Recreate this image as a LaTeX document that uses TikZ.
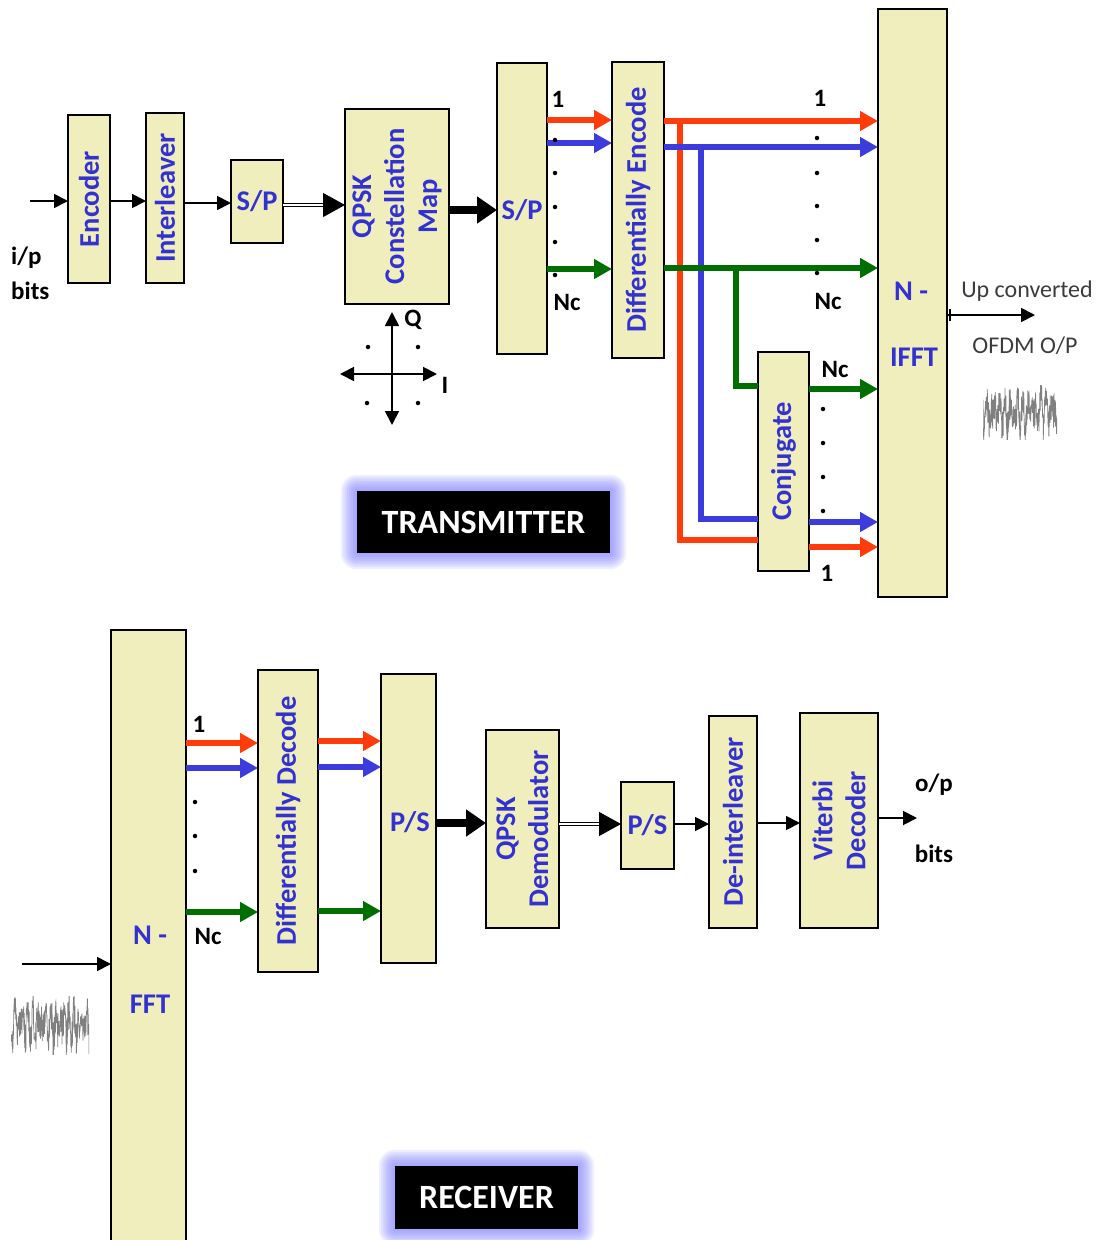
\documentclass[tikz,border=0pt]{standalone}
\usepackage{fontspec}
\setmainfont{Carlito}
\usetikzlibrary{arrows.meta,backgrounds,calc}
\definecolor{boxfill}{RGB}{240,238,188}
\definecolor{txtblue}{RGB}{50,50,210}
\definecolor{arrred}{RGB}{255,60,10}
\definecolor{arrblue}{RGB}{60,60,220}
\definecolor{arrgreen}{RGB}{0,110,0}
\definecolor{glowc}{RGB}{120,120,255}
\definecolor{graytxt}{RGB}{60,60,60}
\begin{document}
\begin{tikzpicture}[x=1pt,y=-1pt,
  blk/.style={draw=black, line width=2.2pt, fill=boxfill, inner sep=0pt, outer sep=0pt},
  lbl/.style={text=txtblue, font=\fontsize{28.5}{33}\selectfont\bfseries, inner sep=0pt, align=center},
  rlbl/.style={lbl, rotate=90},
  num/.style={font=\fontsize{25}{28}\selectfont\bfseries, inner sep=0pt},
  upt/.style={text=graytxt, font=\fontsize{24}{27}\selectfont, inner sep=0pt},
  tag/.style={fill=black, text=white, font=\fontsize{34}{38}\selectfont\bfseries, inner sep=0pt},
  thinarr/.style={line width=1.8pt, -{Triangle[length=14pt,width=14pt]}},
  bothhead/.style={line width=1.8pt, {Triangle[length=14pt,width=14pt]}-{Triangle[length=14pt,width=14pt]}},
  thickarr/.style={line width=8pt, -{Triangle[length=20pt,width=26pt]}},
  dblarr/.style={double, double distance=2.5pt, line width=1.2pt, -{Triangle[length=22pt,width=24pt]}},
  colarr/.style={line width=5.8pt, -{Triangle[length=18pt,width=19pt]}},
  colln/.style={line width=5.8pt},
  dotn/.style={circle, fill=black, inner sep=0pt, minimum size=4.5pt},
  noise/.style={line width=0.7pt, draw=black!50}
]
\useasboundingbox (0,0) rectangle (1102,1240);

% ================= TRANSMITTER =================
\node[blk, minimum width=42pt, minimum height=168pt] (enc) at (89,199) {};
\node[rlbl] (enct) at (enc) {Encoder};
\node[blk, minimum width=38pt, minimum height=170pt] (intl) at (165,198) {};
\node[rlbl] (intlt) at (intl) {Interleaver};
\node[blk, minimum width=52pt, minimum height=83pt] (sp1) at (257,201.5) {};
\node[lbl] (sp1t) at (sp1) {S/P};
\node[blk, minimum width=104pt, minimum height=195pt] (qpsk) at (397,206.5) {};
\node[rlbl] (qpskt) at (qpsk) {QPSK\\Constellation\\Map};
\node[blk, minimum width=50pt, minimum height=291pt] (sp2) at (522,208.5) {};
\node[lbl] (sp2t) at (522,210) {S/P};
\node[blk, minimum width=52pt, minimum height=296pt] (denc) at (638,210) {};
\node[rlbl] (denct) at (denc) {Differentially Encode};
\node[blk, minimum width=69pt, minimum height=588pt] (ifft) at (912.5,303) {};
\node[lbl] (ifftn) at (911,291) {N -};
\node[lbl] (ifftt) at (914,357) {IFFT};
\node[blk, minimum width=51pt, minimum height=219pt] (conj) at (783.5,461.5) {};
\node[rlbl] (conjt) at (conj) {Conjugate};

% input
\coordinate (ipin) at (30,201);
\draw[thinarr] (ipin) -- (ipin -| enc.west);
\node[num, anchor=west] (ipt) at (11,258) {i/p};
\node[num, anchor=west] (ipb) at (11,291) {bits};
\draw[thinarr] (enc.east |- 0,201) -- (intl.west |- 0,201);
\draw[thinarr] (intl.east |- 0,203) -- (sp1.west |- 0,203);
\draw[dblarr] (sp1.east |- 0,205) -- (qpsk.west |- 0,205);
\draw[thickarr] (qpsk.east |- 0,210) -- (sp2.west |- 0,210);

% constellation
\coordinate (qtop) at (392,312);
\coordinate (qbot) at (392,425);
\coordinate (ileft) at (340,374);
\coordinate (iright) at (437,374);
\draw[bothhead] (qbot) -- (qtop);
\draw[bothhead] (ileft) -- (iright);
\node[num] (qlab) at (413,320) {Q};
\node[num] (ilab) at (445,385) {I};
\node[dotn] (c1) at (368,347) {};
\node[dotn] (c2) at (418,347) {};
\node[dotn] (c3) at (367,403) {};
\node[dotn] (c4) at (418,403) {};

% S/P -> Diff encode
\draw[colarr, arrred] (sp2.east |- 0,120) -- (denc.west |- 0,120);
\draw[colarr, arrblue] (sp2.east |- 0,143) -- (denc.west |- 0,143);
\draw[colarr, arrgreen] (sp2.east |- 0,269) -- (denc.west |- 0,269);
\node[num] (sp2one) at (558,99) {1};
\node[num] (sp2nc) at (567,302) {Nc};
\foreach \yy [count=\k] in {140,173,207,242,275} \node[dotn] (spd\k) at (555,\yy) {};

% branches to conjugate
\coordinate (rj) at (680,121);
\coordinate (bj) at (701,147);
\coordinate (gj) at (736,268);
\draw[colln, arrred] (rj) |- (conj.west |- 0,540);
\draw[colln, arrblue] (bj) |- (conj.west |- 0,519);
\draw[colln, arrgreen] (gj) |- (conj.west |- 0,386);

% Diff encode -> IFFT
\draw[colarr, arrred] (denc.east |- 0,121) -- (ifft.west |- 0,121);
\draw[colarr, arrblue] (denc.east |- 0,147) -- (ifft.west |- 0,147);
\draw[colarr, arrgreen] (denc.east |- 0,268) -- (ifft.west |- 0,268);
\node[num] (deone) at (820,98) {1};
\node[num] (denc2) at (828,301) {Nc};
\foreach \yy [count=\k] in {138,173,206,240,273} \node[dotn] (ded\k) at (817,\yy) {};

% Conjugate -> IFFT
\draw[colarr, arrgreen] (conj.east |- 0,389) -- (ifft.west |- 0,389);
\draw[colarr, arrblue] (conj.east |- 0,522) -- (ifft.west |- 0,522);
\draw[colarr, arrred] (conj.east |- 0,547) -- (ifft.west |- 0,547);
\node[num] (cjnc) at (835,369) {Nc};
\node[num] (cjone) at (827,573) {1};
\foreach \yy [count=\k] in {409,443,477,511} \node[dotn] (cjd\k) at (823,\yy) {};

% IFFT output
\coordinate (ofdm) at (1035,315);
\draw[thinarr] (ifft.east |- ofdm) -- (ofdm);
\draw[line width=1.5pt] (950,309) -- (950,321);
\node[upt] (upc) at (1027,291) {Up converted};
\node[upt] (ofdmt) at (1025,346) {OFDM O/P};

% noise (transmitter)
\pgfmathsetseed{7}
\begin{scope}[shift={(983,412)}]
\clip (0,-27) rectangle (74,27);
\draw[noise] plot[domain=0:74, samples=320, variable=\t] (\t, {34*(0.5*sin(\t*70)*cos(\t*9)+0.5*(2*rnd-1))});
\end{scope}

% TRANSMITTER tag
\node[tag, minimum width=253pt, minimum height=62pt] (tx) at (483.5,522) {TRANSMITTER};
\begin{scope}[on background layer]
\foreach \gl in {2,4,...,16} {
  \fill[glowc, opacity=0.12, rounded corners=\gl pt] ($(tx.north west)+(-\gl,-\gl)$) rectangle ($(tx.south east)+(\gl,\gl)$);
}
\end{scope}

% ================= RECEIVER =================
\node[blk, minimum width=75pt, minimum height=620pt] (fft) at (148.5,940) {};
\node[lbl] (fftn) at (150,935) {N -};
\node[lbl] (fftt) at (150,1004) {FFT};
\node[blk, minimum width=60pt, minimum height=302pt] (ddec) at (288,821) {};
\node[rlbl] (ddect) at (ddec) {Differentially Decode};
\node[blk, minimum width=55pt, minimum height=289pt] (ps1) at (408.5,818.5) {};
\node[lbl] (ps1t) at (410,822) {P/S};
\node[blk, minimum width=73pt, minimum height=198pt] (qdem) at (522.5,829) {};
\node[rlbl] (qdemt) at (qdem) {QPSK\\Demodulator};
\node[blk, minimum width=53pt, minimum height=87pt] (ps2) at (647.5,825.5) {};
\node[lbl] (ps2t) at (ps2) {P/S};
\node[blk, minimum width=48pt, minimum height=212pt] (dint) at (733,822) {};
\node[rlbl] (dintt) at (dint) {De-interleaver};
\node[blk, minimum width=78pt, minimum height=215pt] (vit) at (839,820.5) {};
\node[rlbl] (vitt) at (vit) {Viterbi\\Decoder};

\coordinate (rin) at (22,964);
\draw[thinarr] (rin) -- (rin -| fft.west);

\draw[colarr, arrred] (fft.east |- 0,743) -- (ddec.west |- 0,743);
\draw[colarr, arrblue] (fft.east |- 0,768) -- (ddec.west |- 0,768);
\draw[colarr, arrgreen] (fft.east |- 0,912) -- (ddec.west |- 0,912);
\node[num] (rone) at (199,724) {1};
\node[num] (rnc) at (208,936) {Nc};
\foreach \yy [count=\k] in {802,836,871} \node[dotn] (rd\k) at (195,\yy) {};

\draw[colarr, arrred] (ddec.east |- 0,741) -- (ps1.west |- 0,741);
\draw[colarr, arrblue] (ddec.east |- 0,767) -- (ps1.west |- 0,767);
\draw[colarr, arrgreen] (ddec.east |- 0,911) -- (ps1.west |- 0,911);

\draw[thickarr] (ps1.east |- 0,823) -- (qdem.west |- 0,823);
\draw[dblarr] (qdem.east |- 0,824) -- (ps2.west |- 0,824);
\draw[thinarr] (ps2.east |- 0,824) -- (dint.west |- 0,824);
\draw[thinarr] (dint.east |- 0,823) -- (vit.west |- 0,823);
\coordinate (rout) at (917,818);
\draw[thinarr] (vit.east |- rout) -- (rout);
\node[num] (opl) at (934,785) {o/p};
\node[num] (opb) at (934,854) {bits};

% noise (receiver)
\pgfmathsetseed{11}
\begin{scope}[shift={(11,1025)}]
\clip (0,-29) rectangle (78,29);
\draw[noise] plot[domain=0:78, samples=340, variable=\t] (\t, {36*(0.5*sin(\t*70)*cos(\t*9)+0.5*(2*rnd-1))});
\end{scope}

% RECEIVER tag
\node[tag, minimum width=183pt, minimum height=63pt] (rx) at (486.5,1197.5) {RECEIVER};
\begin{scope}[on background layer]
\foreach \gl in {2,4,...,16} {
  \fill[glowc, opacity=0.12, rounded corners=\gl pt] ($(rx.north west)+(-\gl,-\gl)$) rectangle ($(rx.south east)+(\gl,\gl)$);
}
\end{scope}
\end{tikzpicture}
\end{document}
